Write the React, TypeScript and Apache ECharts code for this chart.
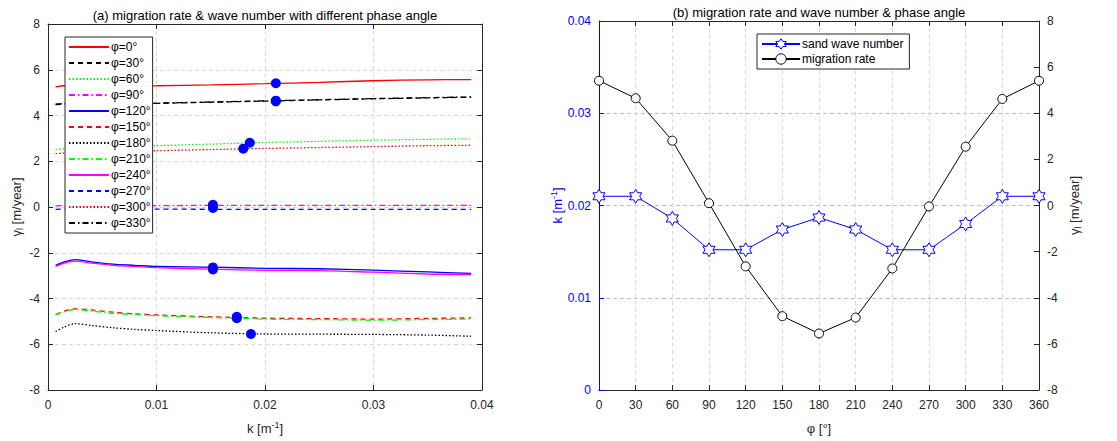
import React, { useEffect, useRef } from "react";
import * as echarts from "echarts";

// ---------- data ----------
const kSamples = [0.0007, 0.0015, 0.0025, 0.004, 0.006, 0.008, 0.01, 0.015, 0.02, 0.025, 0.03, 0.035, 0.039];

const rate0 = [5.25, 5.3, 5.3, 5.28, 5.28, 5.29, 5.3, 5.34, 5.39, 5.45, 5.52, 5.56, 5.57];
const rate30 = [4.48, 4.5, 4.52, 4.5, 4.5, 4.51, 4.53, 4.58, 4.63, 4.68, 4.73, 4.77, 4.8];
const rate60 = [2.5, 2.55, 2.6, 2.6, 2.62, 2.65, 2.68, 2.75, 2.82, 2.87, 2.92, 2.96, 2.98];
const rate90 = [0.05, 0.06, 0.06, 0.06, 0.06, 0.06, 0.06, 0.07, 0.07, 0.07, 0.07, 0.07, 0.07];
const rate120 = [-2.55, -2.4, -2.3, -2.4, -2.5, -2.55, -2.6, -2.63, -2.68, -2.7, -2.76, -2.84, -2.9];
const rate150 = [-4.7, -4.55, -4.45, -4.5, -4.6, -4.67, -4.72, -4.8, -4.86, -4.88, -4.9, -4.87, -4.85];
const rate180 = [-5.45, -5.25, -5.1, -5.18, -5.28, -5.35, -5.4, -5.5, -5.55, -5.56, -5.57, -5.6, -5.65];
const rate210 = [-4.72, -4.58, -4.48, -4.55, -4.65, -4.7, -4.75, -4.83, -4.9, -4.92, -4.95, -4.92, -4.9];
const rate240 = [-2.6, -2.45, -2.37, -2.45, -2.55, -2.6, -2.65, -2.72, -2.77, -2.78, -2.85, -2.93, -2.95];
const rate270 = [-0.1, -0.09, -0.09, -0.09, -0.09, -0.09, -0.09, -0.1, -0.1, -0.1, -0.1, -0.1, -0.1];
const rate300 = [2.33, 2.36, 2.4, 2.4, 2.42, 2.44, 2.46, 2.51, 2.56, 2.6, 2.64, 2.68, 2.7];
const rate330 = [4.5, 4.52, 4.54, 4.52, 4.51, 4.52, 4.54, 4.59, 4.64, 4.69, 4.74, 4.78, 4.81];

const phaseLabels = ["φ=0°", "φ=30°", "φ=60°", "φ=90°", "φ=120°", "φ=150°", "φ=180°", "φ=210°", "φ=240°", "φ=270°", "φ=300°", "φ=330°"];
const phaseCurves = [rate0, rate30, rate60, rate90, rate120, rate150, rate180, rate210, rate240, rate270, rate300, rate330];

const phiDeg = [0, 30, 60, 90, 120, 150, 180, 210, 240, 270, 300, 330, 360];
const waveNumber = [0.021, 0.021, 0.0186, 0.0152, 0.0152, 0.0174, 0.0187, 0.0174, 0.0152, 0.0152, 0.018, 0.021, 0.021];
const migrationRate = [5.41, 4.65, 2.81, 0.1, -2.64, -4.8, -5.55, -4.86, -2.73, -0.04, 2.55, 4.62, 5.41];

// ---------- styles ----------
const DASH = [5, 4];
const DOT = [1.5, 2];
const DASHDOT = [6, 3, 1.5, 3];
const curveStyles: { c: string; t: any }[] = [
  { c: "#ff0000", t: "solid" },
  { c: "#000000", t: DASH },
  { c: "#00ff00", t: DOT },
  { c: "#ff00ff", t: DASHDOT },
  { c: "#0000ff", t: "solid" },
  { c: "#ff0000", t: DASH },
  { c: "#000000", t: DOT },
  { c: "#00ff00", t: DASHDOT },
  { c: "#ff00ff", t: "solid" },
  { c: "#0000ff", t: DASH },
  { c: "#ff0000", t: DOT },
  { c: "#000000", t: DASHDOT },
];

const HEXAGRAM =
  "path://M0,-1L0.2887,-0.5L0.866,-0.5L0.5774,0L0.866,0.5L0.2887,0.5L0,1L-0.2887,0.5L-0.866,0.5L-0.5774,0L-0.866,-0.5L-0.2887,-0.5Z";

const FONT = "Liberation Sans, Arial, Helvetica, sans-serif";
const LABEL = { fontFamily: FONT, fontSize: 12, color: "#262626" };
const GRID_GRAY = { show: true, lineStyle: { color: "#d9d9d9", type: [4, 3] as any, width: 1 } };

const tickIn = (color = "#262626") => ({ show: true, inside: true, length: 5, lineStyle: { color } });
const axisLn = (color = "#262626") => ({ show: true, onZero: false, lineStyle: { color, width: 1 } });

const nameRich = {
  n: { fontFamily: FONT, fontSize: 13, color: "#262626", lineHeight: 16, verticalAlign: "middle" },
  sub: { fontFamily: FONT, fontSize: 9, color: "#262626", lineHeight: 9, verticalAlign: "bottom" },
  sup: { fontFamily: FONT, fontSize: 9, color: "#262626", lineHeight: 9, verticalAlign: "top" },
};
const nameRichBlue = {
  n: { ...nameRich.n, color: "#0000ff" },
  sub: { ...nameRich.sub, color: "#0000ff" },
  sup: { ...nameRich.sup, color: "#0000ff" },
};

export default function App() {
  const ref = useRef<HTMLDivElement>(null);
  useEffect(() => {
    if (!ref.current) return;
    const chart = echarts.init(ref.current, undefined, { renderer: "svg" });

    const curveSeries = phaseCurves.map((vals, i) => ({
      name: phaseLabels[i],
      type: "line",
      xAxisIndex: 0,
      yAxisIndex: 0,
      symbol: "none",
      smooth: 0.3,
      data: kSamples.map((k, j) => [k, vals[j]]),
      lineStyle: { color: curveStyles[i].c, type: curveStyles[i].t, width: 1.3 },
      itemStyle: { color: curveStyles[i].c, opacity: 0 },
      z: 2,
    }));

    const option: any = {
      animation: false,
      backgroundColor: "#ffffff",
      graphic: [
        {
          type: "text",
          x: 265,
          y: 15,
          style: {
            text: "(a) migration rate & wave number with different phase angle",
            fill: "#000",
            font: `13px ${FONT}`,
            textAlign: "center",
            textVerticalAlign: "middle",
          },
        },
        {
          type: "text",
          x: 819,
          y: 12,
          style: {
            text: "(b) migration rate and wave number & phase angle",
            fill: "#000",
            font: `13px ${FONT}`,
            textAlign: "center",
            textVerticalAlign: "middle",
          },
        },
      ],
      grid: [
        { left: 48, top: 24, width: 434, height: 366 },
        { left: 599, top: 21, width: 440, height: 369 },
      ],
      legend: [
        {
          data: phaseLabels,
          orient: "vertical",
          left: 65,
          top: 37,
          itemWidth: 40,
          itemHeight: 14,
          itemGap: 2,
          padding: [3, 2, 3, 3],
          backgroundColor: "#ffffff",
          borderColor: "#262626",
          borderWidth: 1,
          borderRadius: 0,
          itemStyle: { opacity: 0 },
          textStyle: { fontFamily: FONT, fontSize: 12, color: "#000", padding: [0, 0, 0, -3], lineHeight: 14 },
          selectedMode: false,
        },
        {
          data: [
            { name: "sand wave number", itemStyle: { color: "#ffffff", borderColor: "#0000ff", borderWidth: 1 } },
            { name: "migration rate", itemStyle: { color: "#ffffff", borderColor: "#000000", borderWidth: 1 } },
          ],
          orient: "vertical",
          left: 757,
          top: 34,
          itemWidth: 38,
          itemHeight: 13,
          itemGap: 3,
          padding: [4, 6, 4, 4],
          backgroundColor: "#ffffff",
          borderColor: "#262626",
          borderWidth: 1,
          borderRadius: 0,
          textStyle: { fontFamily: FONT, fontSize: 12, color: "#000", padding: [0, 0, 0, -3] },
          selectedMode: false,
        },
      ],
      xAxis: [
        {
          type: "value",
          gridIndex: 0,
          position: "bottom",
          min: 0,
          max: 0.04,
          interval: 0.01,
          axisLine: axisLn(),
          axisTick: tickIn(),
          axisLabel: { ...LABEL, margin: 9 },
          splitLine: GRID_GRAY,
          name: "{n|k [m}{sup|-1}{n|]}",
          nameLocation: "middle",
          nameGap: 30,
          nameTextStyle: { rich: nameRich },
        },
        {
          type: "value",
          gridIndex: 0,
          position: "top",
          min: 0,
          max: 0.04,
          interval: 0.01,
          axisLine: axisLn(),
          axisTick: tickIn(),
          axisLabel: { show: false },
          splitLine: { show: false },
        },
        {
          type: "value",
          gridIndex: 1,
          position: "bottom",
          min: 0,
          max: 360,
          interval: 30,
          axisLine: axisLn(),
          axisTick: tickIn(),
          axisLabel: { ...LABEL, margin: 9 },
          splitLine: GRID_GRAY,
          name: "{n|φ [°]}",
          nameLocation: "middle",
          nameGap: 30,
          nameTextStyle: { rich: nameRich },
        },
        {
          type: "value",
          gridIndex: 1,
          position: "top",
          min: 0,
          max: 360,
          interval: 30,
          axisLine: axisLn(),
          axisTick: tickIn(),
          axisLabel: { show: false },
          splitLine: { show: false },
        },
      ],
      yAxis: [
        {
          type: "value",
          gridIndex: 0,
          position: "left",
          min: -8,
          max: 8,
          interval: 2,
          axisLine: axisLn(),
          axisTick: tickIn(),
          axisLabel: { ...LABEL, margin: 8 },
          splitLine: GRID_GRAY,
          name: "{n|γ}{sub|l}{n| [m/year]}",
          nameLocation: "middle",
          nameRotate: 90,
          nameGap: 24,
          nameTextStyle: { rich: nameRich },
        },
        {
          type: "value",
          gridIndex: 0,
          position: "right",
          min: -8,
          max: 8,
          interval: 2,
          axisLine: axisLn(),
          axisTick: tickIn(),
          axisLabel: { show: false },
          splitLine: { show: false },
        },
        {
          type: "value",
          gridIndex: 1,
          position: "left",
          min: 0,
          max: 0.04,
          interval: 0.01,
          axisLine: axisLn("#0000ff"),
          axisTick: tickIn("#0000ff"),
          axisLabel: { ...LABEL, color: "#0000ff", margin: 8 },
          splitLine: { show: true, lineStyle: { color: "#b8b8f5", type: [4, 3], width: 1 } },
          name: "{n|k [m}{sup|-1}{n|]}",
          nameLocation: "middle",
          nameRotate: 90,
          nameGap: 33,
          nameTextStyle: { rich: nameRichBlue },
        },
        {
          type: "value",
          gridIndex: 1,
          position: "right",
          min: -8,
          max: 8,
          interval: 2,
          axisLine: axisLn(),
          axisTick: tickIn(),
          axisLabel: { ...LABEL, margin: 8 },
          splitLine: { show: false },
          name: "{n|γ}{sub|l}{n| [m/year]}",
          nameLocation: "middle",
          nameRotate: 90,
          nameGap: 27,
          nameTextStyle: { rich: nameRich },
        },
      ],
      series: [
        ...curveSeries,
        {
          name: "peak",
          type: "scatter",
          xAxisIndex: 0,
          yAxisIndex: 0,
          symbol: "circle",
          symbolSize: 10,
          itemStyle: { color: "#0000ff", opacity: 1 },
          data: waveNumber.slice(0, 12).map((k, i) => [k, migrationRate[i]]),
          z: 5,
        },
        {
          name: "sand wave number",
          type: "line",
          xAxisIndex: 2,
          yAxisIndex: 2,
          symbol: HEXAGRAM,
          symbolKeepAspect: true,
          symbolSize: 14,
          showAllSymbol: true,
          data: phiDeg.map((p, i) => [p, waveNumber[i]]),
          lineStyle: { color: "#0000ff", width: 1 },
          itemStyle: { color: "#ffffff", borderColor: "#0000ff", borderWidth: 1 },
          z: 3,
        },
        {
          name: "migration rate",
          type: "line",
          xAxisIndex: 2,
          yAxisIndex: 3,
          symbol: "circle",
          symbolSize: 9,
          showAllSymbol: true,
          data: phiDeg.map((p, i) => [p, migrationRate[i]]),
          lineStyle: { color: "#000000", width: 1 },
          itemStyle: { color: "#ffffff", borderColor: "#000000", borderWidth: 1 },
          z: 3,
        },
      ],
    };
    chart.setOption(option);
    return () => chart.dispose();
  }, []);

  return (
    <div
      ref={ref}
      style={{ position: "fixed", left: 0, top: 0, width: 1117, height: 441, background: "#ffffff" }}
    />
  );
}
